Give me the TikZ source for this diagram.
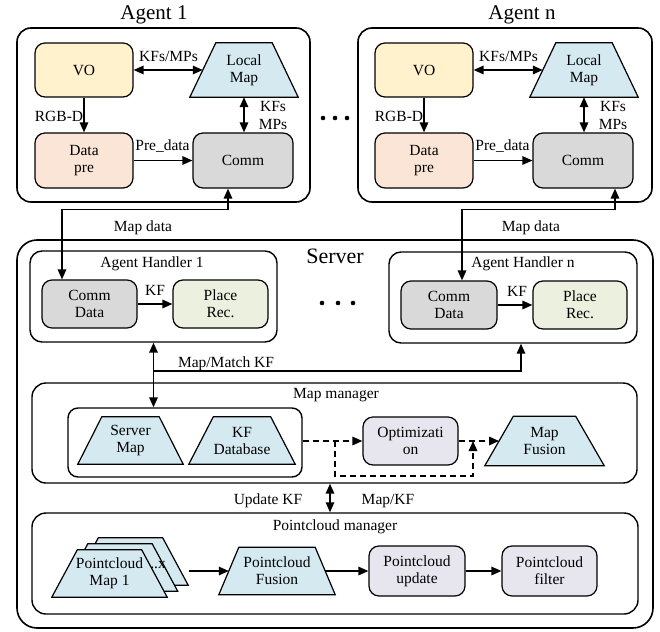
\documentclass[tikz,border=0pt]{standalone}
\usepackage{fontspec}
\setmainfont{Liberation Serif}
\usetikzlibrary{arrows.meta}
\definecolor{voY}{HTML}{FFF2CC}
\definecolor{dpO}{HTML}{FBE5D6}
\definecolor{cmG}{HTML}{D9D9D9}
\definecolor{mpB}{HTML}{D5E9F1}
\definecolor{prG}{HTML}{EBF1DE}
\definecolor{opL}{HTML}{E7E5EE}
\tikzset{
  every node/.style={font=\fontsize{15.5}{17}\selectfont},
  box/.style={draw, line width=1.2pt, rounded corners=10pt, align=center, inner sep=0pt},
  cont/.style={draw, line width=1.6pt, rounded corners=14pt, inner sep=0pt},
  trapd/.style={draw, fill=mpB, line width=1.2pt, line join=miter},
  lbl/.style={align=center, inner sep=0pt},
  bl/.style={anchor=base, inner sep=0pt},
  ttl/.style={anchor=base, inner sep=0pt, font=\fontsize{21}{24}\selectfont},
  arr/.style={line width=1.5pt, -{Triangle[length=10pt,width=8.5pt]}},
  dbl/.style={line width=1.5pt, {Triangle[length=10pt,width=8.5pt]}-{Triangle[length=10pt,width=8.5pt]}},
  darr/.style={arr, dash pattern=on 6pt off 4pt},
}
% #1 name, #2 x, #3 y, #4 mid width, #5 height, #6 quarter of (bottom - top), #7 text
\newcommand\trapz[7]{%
  \path (#2,#3) node[minimum width=#4, minimum height=#5, inner sep=0pt] (#1) {};
  \draw[trapd] ([xshift=-#6]#1.south west) -- ([xshift=#6]#1.north west)
     -- ([xshift=-#6]#1.north east) -- ([xshift=#6]#1.south east) -- cycle;
  \node[lbl] (#1t) at (#1) {#7};
}
\begin{document}
\begin{tikzpicture}[x=1pt,y=-1pt]
\useasboundingbox (0,0) rectangle (660,631);

% ---------------- Agent 1 ----------------
\node[cont, minimum width=293, minimum height=174] (A1) at (163.5,115) {};
\node[ttl] (A1t) at (154,20) {Agent 1};
\node[box, fill=voY, minimum width=98, minimum height=54] (VO1) at (84,70) {VO};
\trapz{LM1}{244}{70}{82}{54}{13}{Local\\Map}
\node[box, fill=dpO, minimum width=98, minimum height=55] (DP1) at (84,160.5) {Data\\pre};
\node[box, fill=cmG, minimum width=100, minimum height=55] (CM1) at (243,160.5) {Comm};
\draw[dbl] (VO1) -- (LM1);
\draw[arr] (VO1) -- (DP1);
\draw[arr] (DP1) -- (CM1);
\draw[dbl] (LM1.south) -- (LM1.south |- CM1.north);
\node[bl] (l1a) at (168.5,62) {KFs/MPs};
\node[bl] (l1b) at (59,122) {RGB-D};
\node[bl] (l1c) at (162.5,150) {Pre\_data};
\node[bl] (l1d) at (273,112) {KFs};
\node[bl] (l1e) at (273,130) {MPs};

% ---------------- Agent n ----------------
\node[cont, minimum width=294, minimum height=174] (An) at (505,115) {};
\node[ttl] (Ant) at (522,20) {Agent n};
\node[box, fill=voY, minimum width=98, minimum height=54] (VOn) at (424,70) {VO};
\trapz{LMn}{584}{70}{82}{54}{13}{Local\\Map}
\node[box, fill=dpO, minimum width=98, minimum height=55] (DPn) at (424,160.5) {Data\\pre};
\node[box, fill=cmG, minimum width=100, minimum height=55] (CMn) at (583,160.5) {Comm};
\draw[dbl] (VOn) -- (LMn);
\draw[arr] (VOn) -- (DPn);
\draw[arr] (DPn) -- (CMn);
\draw[dbl] (LMn.south) -- (LMn.south |- CMn.north);
\node[bl] (lna) at (508.5,62) {KFs/MPs};
\node[bl] (lnb) at (399,122) {RGB-D};
\node[bl] (lnc) at (502.5,150) {Pre\_data};
\node[bl] (lnd) at (613,112) {KFs};
\node[bl] (lne) at (613,130) {MPs};

% dots between agents
\fill (323,118) circle (2.3) (335,118) circle (2.3) (347,118) circle (2.3);

% ---------------- Server ----------------
\node[cont, rounded corners=20pt, minimum width=636, minimum height=388] (SV) at (335,434) {};
\node[ttl, font=\fontsize{22}{25}\selectfont] (SVt) at (335,263) {Server};

\node[cont, line width=1.4pt, rounded corners=12pt, minimum width=247, minimum height=91] (AH1) at (153.5,296.5) {};
\node[bl] (AH1t) at (152,267) {Agent Handler 1};
\node[box, fill=cmG, minimum width=95, minimum height=48] (CD1) at (89.5,304) {Comm\\Data};
\node[box, fill=prG, minimum width=95, minimum height=48] (PR1) at (220.5,304) {Place\\Rec.};
\draw[arr] (CD1) -- (PR1);
\node[bl] (kf1) at (155,295) {KF};

\node[cont, line width=1.4pt, rounded corners=12pt, minimum width=248, minimum height=91] (AHn) at (513,297.5) {};
\node[bl] (AHnt) at (523,267) {Agent Handler n};
\node[box, fill=cmG, minimum width=96, minimum height=48] (CDn) at (449,305) {Comm\\Data};
\node[box, fill=prG, minimum width=94, minimum height=48] (PRn) at (580,305) {Place\\Rec.};
\draw[arr] (CDn) -- (PRn);
\node[bl] (kfn) at (517,296) {KF};

\fill (322,303) circle (2.3) (338,303) circle (2.3) (353,303) circle (2.3);

% Map data connectors
\draw[dbl] ([xshift=-27.5pt]CD1.north) -- ++(0,-70) -| ([xshift=-15pt]CM1.south);
\node[bl] (md1) at (143,231) {Map data};
\draw[dbl] ([xshift=13pt]CDn.north) -- ++(0,-71) -| ([xshift=32pt]CMn.south);
\node[bl] (mdn) at (531,231) {Map data};

% ---------------- Map manager ----------------
\node[cont, line width=1.4pt, rounded corners=14pt, minimum width=605, minimum height=100] (MM) at (334.5,433) {};
\node[bl] (MMt) at (336,398) {Map manager};
\node[cont, line width=1.4pt, rounded corners=10pt, minimum width=234, minimum height=69] (MMin) at (185,442.5) {};
\trapz{SM}{130.5}{440.5}{81}{47}{12}{Server\\Map}
\trapz{KD}{242}{440.5}{81.5}{47}{12.25}{KF\\Database}
\node[box, fill=opL, minimum width=95, minimum height=48] (OP) at (410.5,441) {Optimizati\\on};
\trapz{MF}{544.5}{441}{90.5}{49}{14.25}{Map\\Fusion}

\draw[dbl] (AH1.south) -- (AH1.south |- MMin.north);
\coordinate (mmk) at (153.5,371);
\draw[arr] (mmk) -| ([xshift=8pt]AHn.south);
\node[bl] (mmkl) at (226,367) {Map/Match KF};

\draw[darr] (MMin.east |- OP) -- (OP);
\draw[darr] (OP) -- (MF);
\coordinate (lpA) at (335,441);
\coordinate (lpB) at (473,441);
\draw[darr] (lpA) -- ++(0,35) -| (lpB);

% ---------------- Pointcloud manager ----------------
\node[cont, line width=1.4pt, rounded corners=14pt, minimum width=606, minimum height=101] (PM) at (335,563.5) {};
\node[bl] (PMt) at (335,530) {Pointcloud manager};
\trapz{PC3}{130.5}{561.5}{89.5}{47}{12.75}{}
\trapz{PC2}{120}{567.5}{89.5}{47}{12.75}{}
\trapz{PC1}{109.5}{573.5}{89.5}{47}{12.75}{Pointcloud\\Map 1}
\node[bl] (PC3x) at (158,568) {..x};
\trapz{PF}{277}{571}{96}{47}{10}{Pointcloud\\Fusion}
\node[box, fill=opL, minimum width=96, minimum height=50] (PU) at (417,571) {Pointcloud\\update};
\node[box, fill=opL, minimum width=95, minimum height=50] (PL) at (549.5,571) {Pointcloud\\filter};
\coordinate (stk) at (189,571);
\draw[arr] (stk) -- (PF);
\draw[arr] (PF) -- (PU);
\draw[arr] (PU) -- (PL);

% Update
\draw[dbl] ([xshift=-4.5pt]MM.south) -- ([xshift=-5pt]PM.north);
\node[bl] (ukf) at (268,504) {Update KF};
\node[bl] (mkf) at (388,504) {Map/KF};
\end{tikzpicture}
\end{document}
